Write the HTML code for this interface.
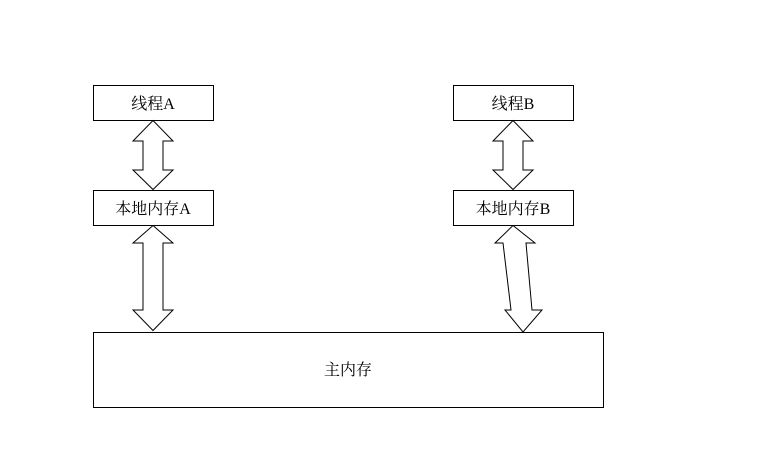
<!DOCTYPE html>
<html><head><meta charset="utf-8"><style>
html,body{margin:0;padding:0;background:#fff;}
svg{display:block}
text{font-family:"Liberation Serif","Noto Serif CJK SC",serif;font-size:16px;fill:#000;}
</style></head><body>
<svg width="765" height="473" viewBox="0 0 765 473" xmlns="http://www.w3.org/2000/svg">
<g fill="#fff" stroke="#000" stroke-width="1">
<rect x="93.5" y="85.5" width="120" height="35"/>
<rect x="93.5" y="190.5" width="120" height="35"/>
<rect x="453.5" y="85.5" width="120" height="35"/>
<rect x="453.5" y="190.5" width="120" height="35"/>
<rect x="93.5" y="332.5" width="510" height="75"/>
<polygon points="153,120.5 173,141 163,141 163,170 173,170 153,189.5 133,170 143,170 143,141 133,141"/>
<polygon points="153,225.5 173,243 163,243 163,310 173,310 153,330.5 133,310 143,310 143,243 133,243"/>
<polygon points="513,120.5 533,141 523,141 523,170 533,170 513,189.5 493,170 503,170 503,141 493,141"/>
<polygon points="513,225.5 535,243 526,243 532,310 542,310 523,332 505,310 511,310 503,243 495,243"/>
</g>
<text x="153" y="109" text-anchor="middle">线程A</text>
<text x="153" y="214" text-anchor="middle">本地内存A</text>
<text x="513" y="109" text-anchor="middle">线程B</text>
<text x="513" y="214" text-anchor="middle">本地内存B</text>
<text x="348" y="375" text-anchor="middle">主内存</text>
</svg>
</body></html>
